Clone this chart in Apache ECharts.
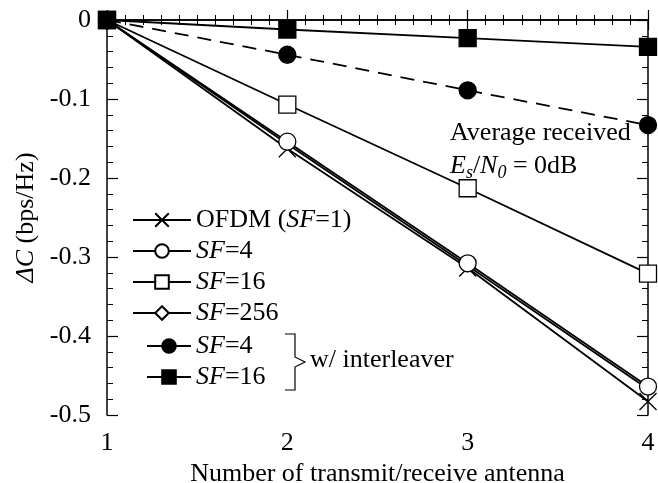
<!DOCTYPE html>
<html>
<head>
<meta charset="utf-8">
<script src="https://cdn.jsdelivr.net/npm/echarts@6/dist/echarts.min.js"></script>
<style>
  html, body { margin: 0; padding: 0; background: #fff; }
  #chart { width: 658px; height: 483px; }
</style>
</head>
<body>
<div id="chart"></div>
<script>
var antennas = [1, 2, 3, 4];
var ofdm = [0, -0.163, -0.314, -0.483];
var sf4 = [0, -0.154, -0.308, -0.464];
var sf16 = [0, -0.107, -0.213, -0.321];
var sf256 = [0, -0.157, -0.311, -0.467];
var sf4Int = [0, -0.044, -0.089, -0.133];
var sf16Int = [0, -0.012, -0.023, -0.034];

var FONT = 'Liberation Serif';
var FS = 26;
var crossPath = 'path://M0,0L10,10M10,0L0,10';

function pts(vals) {
  return vals.map(function (v, i) { return [antennas[i], v]; });
}

var chart = echarts.init(document.getElementById('chart'));

var baseAxisLine = { lineStyle: { color: '#000', width: 1.5 } };

function mkSeries(name, vals, symbol, size, fill, dashed, z) {
  return {
    name: name,
    type: 'line',
    data: pts(vals),
    symbol: symbol,
    symbolSize: size,
    showAllSymbol: true,
    z: z,
    lineStyle: { color: '#000', width: 1.8, type: dashed ? [14, 9] : 'solid' },
    itemStyle: { color: fill, borderColor: '#000', borderWidth: 1.3, opacity: 1 },
    emphasis: { disabled: true },
    animation: false
  };
}

var rich = { i: { fontStyle: 'italic', fontFamily: FONT, fontSize: FS, color: '#000' } };

var option = {
  animation: false,
  grid: { left: 107, right: 10, top: 20, bottom: 68, containLabel: false, outerBoundsMode: 'none' },
  xAxis: [{
    type: 'value', min: 1, max: 4, interval: 1,
    name: 'Number of transmit/receive antenna', nameLocation: 'middle', nameGap: 35,
    nameTextStyle: { fontFamily: FONT, fontSize: FS, color: '#000' },
    axisLine: baseAxisLine,
    axisTick: { inside: true, length: 10, lineStyle: { color: '#000', width: 1.2 } },
    minorTick: { show: true, splitNumber: 10, length: 5, lineStyle: { color: '#000', width: 1 } },
    axisLabel: { margin: 15, fontFamily: FONT, fontSize: FS, color: '#000' },
    splitLine: { show: false }
  }, {
    type: 'value', min: 1, max: 4, interval: 1, position: 'top',
    axisLine: baseAxisLine,
    axisTick: { inside: true, length: 10, lineStyle: { color: '#000', width: 1.2 } },
    minorTick: { show: true, splitNumber: 10, length: 5, lineStyle: { color: '#000', width: 1 } },
    axisLabel: { show: false },
    splitLine: { show: false }
  }],
  yAxis: [{
    type: 'value', min: -0.5, max: 0, interval: 0.1,
    name: '{i|ΔC} (bps/Hz)', nameLocation: 'middle', nameGap: 65, nameRotate: 90,
    nameTextStyle: { fontFamily: FONT, fontSize: FS, color: '#000', rich: rich },
    axisLine: baseAxisLine,
    axisTick: { inside: true, length: 11, lineStyle: { color: '#000', width: 1.2 } },
    minorTick: { show: true, splitNumber: 5, length: 6, lineStyle: { color: '#000', width: 1 } },
    axisLabel: { margin: 16, fontFamily: FONT, fontSize: FS, color: '#000',
      formatter: function (v) { return v === 0 ? '0' : String(Math.round(v * 10) / 10); } },
    splitLine: { show: false }
  }, {
    type: 'value', min: -0.5, max: 0, interval: 0.1, position: 'right',
    axisLine: baseAxisLine,
    axisTick: { inside: true, length: 11, lineStyle: { color: '#000', width: 1.2 } },
    minorTick: { show: true, splitNumber: 5, length: 6, lineStyle: { color: '#000', width: 1 } },
    axisLabel: { show: false },
    splitLine: { show: false }
  }],
  legend: [{
    orient: 'vertical', left: 127, top: 202,
    itemWidth: 58, itemHeight: 17, itemGap: 5,
    textStyle: { fontFamily: FONT, fontSize: FS, color: '#000', rich: rich },
    formatter: function (n) {
      if (n === 'ofdm') return 'OFDM ({i|SF}=1)';
      if (n === 'sf4') return '{i|SF}=4';
      if (n === 'sf16') return '{i|SF}=16';
      if (n === 'sf256') return '{i|SF}=256';
      return n;
    },
    data: ['ofdm', 'sf4', 'sf16', 'sf256'],
    selectedMode: false
  }, {
    orient: 'vertical', left: 141, top: 328,
    itemWidth: 44, itemHeight: 17, itemGap: 5,
    textStyle: { fontFamily: FONT, fontSize: FS, color: '#000', rich: rich },
    formatter: function (n) {
      if (n === 'sf4i') return '{i|SF}=4';
      return '{i|SF}=16';
    },
    data: [{ name: 'sf4i', lineStyle: { type: 'solid' } }, 'sf16i'],
    selectedMode: false
  }],
  graphic: [{
    type: 'polyline',
    shape: { points: [[285, 334], [295, 334], [295, 357], [305, 362], [295, 367], [295, 390], [285, 390]] },
    style: { stroke: '#000', lineWidth: 1.2, fill: null }
  }, {
    type: 'text', left: 310, top: 347,
    style: { text: 'w/ interleaver', font: FS + 'px "Liberation Serif"', fill: '#000' }
  }, {
    type: 'text', left: 450, top: 120,
    style: { text: 'Average received', font: FS + 'px "Liberation Serif"', fill: '#000' }
  }, {
    type: 'text', left: 450, top: 153,
    style: {
      text: '{i|E}{sub|s}/{i|N}{sub|0} = 0dB',
      font: FS + 'px "Liberation Serif"', fill: '#000',
      rich: {
        i: { fontStyle: 'italic', fontFamily: FONT, fontSize: FS, fill: '#000' },
        sub: { fontStyle: 'italic', fontFamily: FONT, fontSize: 18, fill: '#000', verticalAlign: 'bottom', padding: [14, 0, 0, 0] }
      }
    }
  }],
  series: [
    mkSeries('sf256', sf256, 'diamond', 12, '#fff', false, 2),
    mkSeries('ofdm', ofdm, crossPath, 17, 'none', false, 3),
    mkSeries('sf4', sf4, 'circle', 17, '#fff', false, 4),
    mkSeries('sf16', sf16, 'rect', 17, '#fff', false, 5),
    mkSeries('sf4i', sf4Int, 'circle', 17, '#000', true, 6),
    mkSeries('sf16i', sf16Int, 'rect', 17, '#000', false, 7)
  ]
};

chart.setOption(option);
</script>
</body>
</html>
